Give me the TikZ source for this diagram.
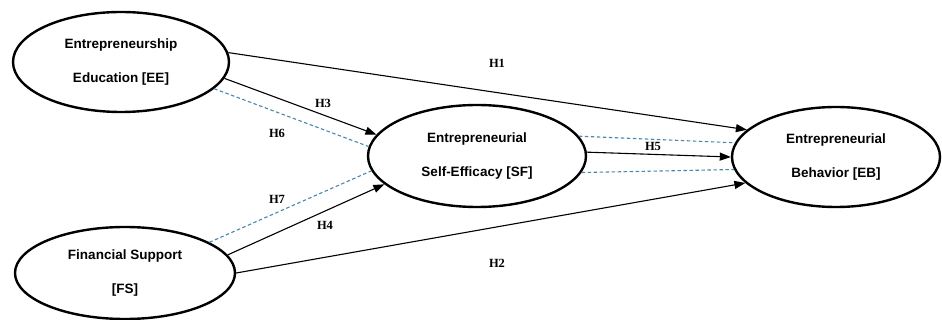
\documentclass[tikz,border=0pt]{standalone}
\usepackage{fontspec}
\setmainfont{Liberation Sans}
\newfontfamily\hfont{Liberation Serif}
\usetikzlibrary{shapes.geometric,arrows.meta}
\definecolor{dashblue}{HTML}{4A86A8}
\tikzset{
  construct/.style={ellipse, draw=black, line width=2.4pt, inner sep=0pt,
    align=center, font=\fontsize{13.5}{34}\selectfont\bfseries},
  path/.style={draw=black, line width=1.1pt, -{Triangle[length=11pt,width=8pt]}},
  dpath/.style={draw=dashblue, line width=1.1pt, dash pattern=on 3.5pt off 2.5pt},
  hlabel/.style={font=\hfont\fontsize{12.5}{14}\selectfont\bfseries, inner sep=1pt}
}
\begin{document}
\begin{tikzpicture}[x=1pt,y=-1pt]
\useasboundingbox (0,0) rectangle (942,320);
\node[construct, minimum width=216pt, minimum height=100pt] (EE) at (121,62) {Entrepreneurship\\Education [EE]};
\node[construct, minimum width=220pt, minimum height=92pt] (FS) at (125,273) {Financial Support\\{[FS]}};
\node[construct, minimum width=218pt, minimum height=102pt] (SF) at (477,156) {Entrepreneurial\\Self-Efficacy [SF]};
\node[construct, minimum width=208pt, minimum height=100pt] (EB) at (836,157) {Entrepreneurial\\Behavior [EB]};

\draw[path] (EE.5) -- (EB.163);
\draw[path] (EE.-9) -- (SF.168);
\draw[dpath] (EE.-16) -- (SF.175);
\draw[dpath] (FS.20) -- (SF.188);
\draw[path] (FS.10) -- (SF.197);
\draw[path] (FS.0) -- (EB.196);
\draw[path] (SF.2) -- (EB.180);
\draw[dpath] (SF.11) -- (EB.172);
\draw[dpath] (SF.-9) -- (EB.187);

\node[hlabel] (h1) at (497,63) {H1};
\node[hlabel] (h2) at (497,263) {H2};
\node[hlabel] (h3) at (323,103) {H3};
\node[hlabel] (h4) at (325,225) {H4};
\node[hlabel] (h5) at (653,146) {H5};
\node[hlabel] (h6) at (277,133) {H6};
\node[hlabel] (h7) at (277,199) {H7};
\end{tikzpicture}
\end{document}
